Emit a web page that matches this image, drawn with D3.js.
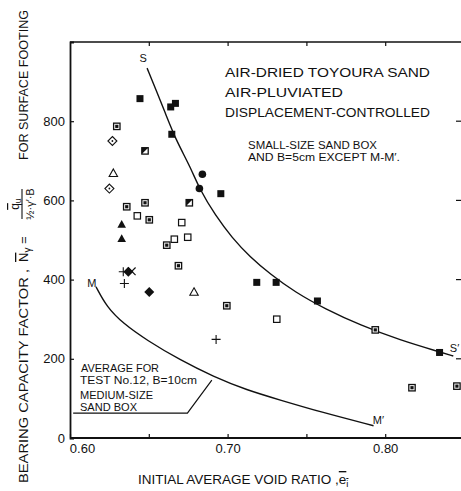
<!DOCTYPE html>
<html>
<head>
<meta charset="utf-8">
<script src="https://cdn.jsdelivr.net/npm/d3@7"></script>
<style>
  body { margin: 0; background: #fff; }
  svg { display: block; }
  text { font-family: "Liberation Sans", Arial, sans-serif; fill: #111; }
</style>
</head>
<body>
<div id="chart"></div>
<script>
// ---- data (e = void ratio, n = N-gamma) ----
const xTickValues = [0.60, 0.65, 0.70, 0.75, 0.80];
const xTickLabels = [0.60, 0.70, 0.80];
const yTickValues = [0, 200, 400, 600, 800];
const rightTicks = [200, 400, 600, 800];

const filledSquare = [[0.6444, 857], [0.6639, 836], [0.6669, 845], [0.6646, 767], [0.6957, 617],
                      [0.7185, 393], [0.7308, 393], [0.7570, 346], [0.8345, 216]];
const filledCircle = [[0.6840, 666], [0.6821, 630]];
const dotSquare = [[0.6297, 787], [0.6476, 594], [0.6360, 584], [0.6503, 551], [0.6614, 487],
                   [0.6688, 435], [0.6995, 334], [0.7937, 273], [0.8170, 127], [0.8455, 131]];
const halfSquare = [[0.6476, 725], [0.6757, 594]];
const openSquare = [[0.6427, 561], [0.6709, 544], [0.6747, 507], [0.6662, 502], [0.7312, 300]];
const openDiamond = [[0.6269, 750], [0.6250, 630]];
const filledDiamond = [[0.6370, 420], [0.6503, 369]];
const openTriangle = [[0.6275, 668], [0.6787, 368]];
const filledTriangle = [[0.6328, 539], [0.6328, 503]];
const plusMark = [[0.6338, 420], [0.6345, 390], [0.6927, 249]];
const crossMark = [[0.6392, 421]];

// curve S-S' (small box) and M-M' (medium box, test No.12)
const curveS = [[0.6489, 934], [0.6546, 879], [0.6610, 815], [0.6673, 752], [0.6762, 686],
                [0.6825, 626], [0.6921, 563], [0.7029, 505], [0.7143, 457], [0.7270, 414],
                [0.7429, 368], [0.7619, 326], [0.7841, 285], [0.8095, 247], [0.8349, 217], [0.8432, 207]];
const curveM = [[0.6165, 382], [0.6233, 331], [0.6338, 289], [0.6487, 247], [0.6698, 197],
                [0.6910, 155], [0.7122, 121], [0.7333, 96], [0.7587, 66], [0.7926, 31]];
const leader = [[0.6020, 63], [0.6745, 63], [0.6900, 146]];

const curveLabels = [
  {t: 'S', e: 0.6465, n: 958},
  {t: 'S\u2032', e: 0.8440, n: 226},
  {t: 'M', e: 0.6138, n: 392},
  {t: 'M\u2032', e: 0.7957, n: 44}
];

// ---- layout ----
const W = 461, H = 491;
const margin = {top: 42, left: 70};
const plotW = 394, plotH = 396;

const svg = d3.select('#chart').append('svg')
  .attr('width', W).attr('height', H);

const g = svg.append('g')
  .attr('transform', `translate(${margin.left},${margin.top})`);

const x = d3.scaleLinear().domain([0.60, 0.85]).range([0, plotW]);
const y = d3.scaleLinear().domain([0, 1000]).range([plotH, 0]);

// frame
g.append('line').attr('x1', 0).attr('x2', W - margin.left).attr('y1', 0).attr('y2', 0)
  .attr('stroke', '#111').attr('stroke-width', 1.6);

const xAxis = d3.axisBottom(x).tickValues(xTickValues).tickSize(-4).tickPadding(6)
  .tickFormat(d => xTickLabels.some(v => Math.abs(v - d) < 1e-6) ? d3.format('.2f')(d) : '');
const xAxisG = g.append('g').attr('transform', `translate(0,${plotH})`).call(xAxis);
xAxisG.select('.domain').remove();
xAxisG.append('line').attr('x1', 0).attr('x2', W - margin.left)
  .attr('stroke', '#111').attr('stroke-width', 1.8);
xAxisG.selectAll('.tick line').attr('stroke', '#111').attr('stroke-width', 1.2);
xAxisG.selectAll('.tick text').attr('font-size', 13).attr('fill', '#111')
  .attr('dx', d => d === 0.60 ? 12 : 0);

const topAxis = d3.axisTop(x).tickValues(xTickValues.slice(1)).tickSize(-4).tickFormat('');
const topG = g.append('g').call(topAxis);
topG.select('.domain').remove();
topG.selectAll('.tick line').attr('stroke', '#111').attr('stroke-width', 1.2);

const yAxis = d3.axisLeft(y).tickValues(yTickValues).tickSize(-4).tickPadding(5);
const yAxisG = g.append('g').call(yAxis);
yAxisG.select('.domain').attr('stroke', '#111').attr('stroke-width', 1.8);
yAxisG.selectAll('.tick line').attr('stroke', '#111').attr('stroke-width', 1.2);
yAxisG.selectAll('.tick text').attr('font-size', 13).attr('fill', '#111');

// short ticks at the right edge
g.selectAll('line.rtick').data(rightTicks).join('line')
  .attr('class', 'rtick')
  .attr('x1', W - margin.left - 5).attr('x2', W - margin.left)
  .attr('y1', d => y(d)).attr('y2', d => y(d))
  .attr('stroke', '#111').attr('stroke-width', 1.2);

// curves
const line = d3.line().x(d => x(d[0])).y(d => y(d[1])).curve(d3.curveBasis);
g.append('path').datum(curveS).attr('d', line)
  .attr('fill', 'none').attr('stroke', '#111').attr('stroke-width', 1.4);
g.append('path').datum(curveM).attr('d', line)
  .attr('fill', 'none').attr('stroke', '#111').attr('stroke-width', 1.4);
g.append('path').datum(leader).attr('d', d3.line().x(d => x(d[0])).y(d => y(d[1])))
  .attr('fill', 'none').attr('stroke', '#111').attr('stroke-width', 1.2);

g.selectAll('text.clabel').data(curveLabels).join('text')
  .attr('class', 'clabel')
  .attr('x', d => x(d.e)).attr('y', d => y(d.n))
  .attr('dy', '0.35em').attr('text-anchor', 'middle')
  .attr('font-size', 11)
  .text(d => d.t);

// markers
const ink = '#111';
function place(sel, data) {
  return sel.selectAll(null).data(data).join('g')
    .attr('transform', d => `translate(${x(d[0])},${y(d[1])})`);
}
const mk = g.append('g').attr('class', 'markers');

place(mk.append('g'), filledSquare).append('rect')
  .attr('x', -3.5).attr('y', -3.5).attr('width', 7).attr('height', 7).attr('fill', ink);

place(mk.append('g'), filledCircle).append('circle')
  .attr('r', 3.8).attr('fill', ink);

const ds = place(mk.append('g'), dotSquare);
ds.append('rect').attr('x', -3.2).attr('y', -3.2).attr('width', 6.4).attr('height', 6.4)
  .attr('fill', '#fff').attr('stroke', ink).attr('stroke-width', 1.3);
ds.append('rect').attr('x', -1.6).attr('y', -1.6).attr('width', 3.2).attr('height', 3.2).attr('fill', ink);

const hs = place(mk.append('g'), halfSquare);
hs.append('rect').attr('x', -3.2).attr('y', -3.2).attr('width', 6.4).attr('height', 6.4)
  .attr('fill', '#fff').attr('stroke', ink).attr('stroke-width', 1.3);
hs.append('path').attr('d', 'M-3.2,-3.2L3.2,-3.2L-3.2,3.2Z').attr('fill', ink);

place(mk.append('g'), openSquare).append('rect')
  .attr('x', -3.2).attr('y', -3.2).attr('width', 6.4).attr('height', 6.4)
  .attr('fill', '#fff').attr('stroke', ink).attr('stroke-width', 1.2);

const od = place(mk.append('g'), openDiamond);
od.append('path').attr('d', 'M0,-4.5L4.5,0L0,4.5L-4.5,0Z')
  .attr('fill', '#fff').attr('stroke', ink).attr('stroke-width', 1.1);
od.append('circle').attr('r', 0.9).attr('fill', ink);

place(mk.append('g'), filledDiamond).append('path')
  .attr('d', 'M0,-5L5,0L0,5L-5,0Z').attr('fill', ink);

place(mk.append('g'), openTriangle).append('path')
  .attr('d', 'M0,-4.5L4.2,3L-4.2,3Z')
  .attr('fill', '#fff').attr('stroke', ink).attr('stroke-width', 1.1);

place(mk.append('g'), filledTriangle).append('path')
  .attr('d', 'M0,-4.5L4.3,3.2L-4.3,3.2Z').attr('fill', ink);

place(mk.append('g'), plusMark).append('path')
  .attr('d', 'M-4.5,0L4.5,0M0,-4.5L0,4.5')
  .attr('stroke', ink).attr('stroke-width', 1.1);

place(mk.append('g'), crossMark).append('path')
  .attr('d', 'M-3.8,-3.8L3.8,3.8M-3.8,3.8L3.8,-3.8')
  .attr('stroke', ink).attr('stroke-width', 1.2);

// annotations
function note(str, px, py, size, len) {
  const t = svg.append('text').attr('x', px).attr('y', py)
    .attr('font-size', size).text(str);
  if (len) t.attr('textLength', len).attr('lengthAdjust', 'spacingAndGlyphs');
  return t;
}
note('AIR-DRIED  TOYOURA SAND', 225, 76.5, 13, 205);
note('AIR-PLUVIATED', 225, 96.5, 13, 118);
note('DISPLACEMENT-CONTROLLED', 225, 116.5, 13, 205);
note('SMALL-SIZE SAND BOX', 248, 149, 10, 129);
note('AND  B=5cm  EXCEPT M-M\u2032.', 248, 161, 10, 152);

note('AVERAGE FOR', 81, 371.5, 10.5, 78);
note('TEST No.12, B=10cm', 80, 384, 10.5, 117);
note('MEDIUM-SIZE', 80, 398.5, 10.5, 73);
note('SAND BOX', 80, 410.5, 10.5, 57);

// x axis title
const xt = svg.append('text').attr('x', 138).attr('y', 484).attr('font-size', 13.5);
xt.append('tspan').text('INITIAL AVERAGE VOID RATIO ,');
xt.append('tspan').text('e').style('text-decoration', 'overline');
xt.append('tspan').text('i').attr('font-size', 9.5).attr('dy', 3).style('text-decoration', 'overline');

// y axis title (rotated)
const yt = svg.append('g').attr('transform', 'translate(28,0) rotate(-90)');
yt.append('text').attr('x', -483).attr('y', 0).attr('font-size', 13)
  .attr('textLength', 214).attr('lengthAdjust', 'spacingAndGlyphs')
  .text('BEARING CAPACITY FACTOR ,');
const nt = yt.append('text').attr('x', -262).attr('y', 0).attr('font-size', 13);
nt.append('tspan').text('N').style('text-decoration', 'overline');
nt.append('tspan').text('\u03b3').attr('font-size', 10).attr('dy', 3);
nt.append('tspan').text(' =').attr('dy', -3);
yt.append('text').attr('x', -204).attr('y', -9).attr('text-anchor', 'middle').attr('font-size', 12)
  .call(t => {
    t.append('tspan').text('q').style('text-decoration', 'overline');
    t.append('tspan').text('u').attr('font-size', 9).attr('dy', 2);
  });
yt.append('line').attr('x1', -219).attr('x2', -189).attr('y1', -6).attr('y2', -6)
  .attr('stroke', '#111').attr('stroke-width', 1.1);
yt.append('text').attr('x', -204).attr('y', 6).attr('text-anchor', 'middle').attr('font-size', 11)
  .text('\u00bd\u00b7\u03b3\u2032\u00b7B');
yt.append('text').attr('x', -160).attr('y', 0).attr('font-size', 13)
  .attr('textLength', 150).attr('lengthAdjust', 'spacingAndGlyphs')
  .text('FOR SURFACE FOOTING');
</script>
</body>
</html>
